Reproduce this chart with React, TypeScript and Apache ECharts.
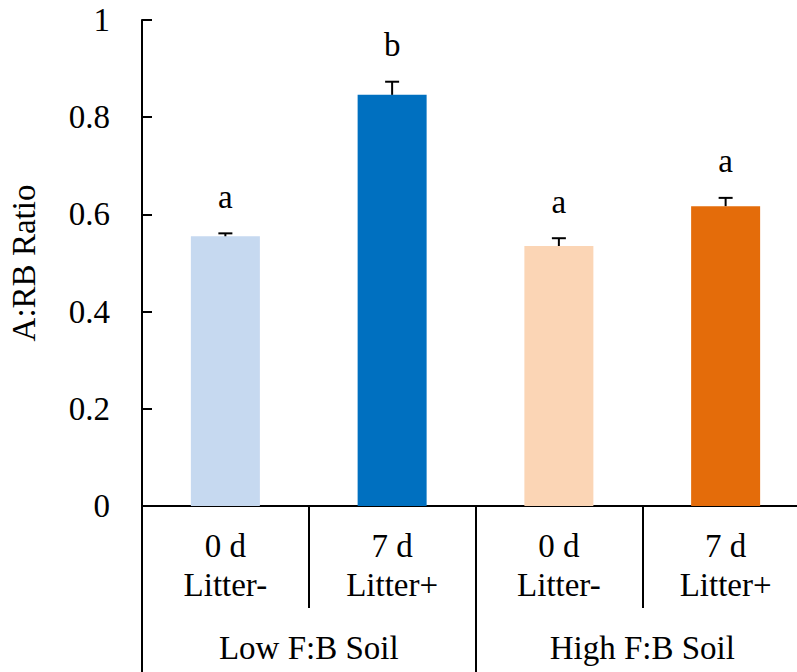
import React, { useEffect, useRef } from "react";
import * as echarts from "echarts";

// Treatment labels (two lines) and soil groups
const categories = ["0 d\nLitter-", "7 d\nLitter+", "0 d\nLitter-", "7 d\nLitter+"];
const groups = ["Low F:B Soil", "High F:B Soil"];

// Mean A:RB ratio, standard error and significance letters per treatment
const ratios = [0.555, 0.846, 0.535, 0.617];
const errors = [0.006, 0.027, 0.016, 0.017];
const letters = ["a", "b", "a", "a"];

// Y-axis ticks
const yTicks = [0, 0.2, 0.4, 0.6, 0.8, 1];

const barColors = ["#C6D9F0", "#0070C0", "#FBD5B5", "#E46C0A"];
const FONT = '"Liberation Serif", "Times New Roman", serif';
const FS = 33;

export default function App() {
  const ref = useRef<HTMLDivElement>(null);

  useEffect(() => {
    if (!ref.current) return;
    const chart = echarts.init(ref.current, null, { renderer: "svg" });

    const errData = ratios.map((v, i) => [i, v, errors[i]]);

    chart.setOption({
      animation: false,
      backgroundColor: "#ffffff",
      grid: { left: 142, top: 20, bottom: 166, width: 667, outerBoundsMode: "none", containLabel: false },
      xAxis: [
        {
          type: "category",
          data: categories,
          position: "bottom",
          axisLine: { show: true, lineStyle: { color: "#000", width: 2 } },
          axisTick: { show: true, length: 102, interval: 0, lineStyle: { color: "#000", width: 2 } },
          axisLabel: {
            interval: 0,
            margin: 20,
            color: "#000",
            fontFamily: FONT,
            fontSize: FS,
            lineHeight: 39,
          },
        },
        {
          type: "category",
          data: groups,
          position: "bottom",
          axisLine: { show: false },
          axisTick: { show: true, length: 170, interval: 0, lineStyle: { color: "#000", width: 2 } },
          axisLabel: {
            interval: 0,
            margin: 122,
            color: "#000",
            fontFamily: FONT,
            fontSize: FS,
            lineHeight: 39,
          },
        },
      ],
      yAxis: {
        type: "value",
        min: yTicks[0],
        max: yTicks[yTicks.length - 1],
        interval: 0.2,
        name: "A:RB Ratio",
        nameLocation: "middle",
        nameGap: 102,
        nameTextStyle: { color: "#000", fontFamily: FONT, fontSize: FS },
        splitLine: { show: false },
        axisLine: { show: true, lineStyle: { color: "#000", width: 2 } },
        axisTick: { show: true, inside: true, length: 10, lineStyle: { color: "#000", width: 2 } },
        axisLabel: {
          margin: 32,
          color: "#000",
          fontFamily: FONT,
          fontSize: FS,
          formatter: (v: number) => String(Number(v.toFixed(1))),
        },
      },
      series: [
        {
          type: "bar",
          xAxisIndex: 0,
          barWidth: 69,
          data: ratios.map((v, i) => ({ value: v, itemStyle: { color: barColors[i] } })),
        },
        {
          type: "custom",
          xAxisIndex: 0,
          z: 5,
          data: errData,
          renderItem: (params: any, api: any) => {
            const idx = api.value(0);
            const v = api.value(1);
            const e = api.value(2);
            const base = api.coord([idx, v]);
            const top = api.coord([idx, v + e]);
            const half = 7;
            const letter = letters[params.dataIndex];
            return {
              type: "group",
              children: [
                {
                  type: "line",
                  shape: { x1: base[0], y1: base[1], x2: top[0], y2: top[1] },
                  style: { stroke: "#000", lineWidth: 2 },
                },
                {
                  type: "line",
                  shape: { x1: top[0] - half, y1: top[1], x2: top[0] + half, y2: top[1] },
                  style: { stroke: "#000", lineWidth: 2 },
                },
                {
                  type: "text",
                  style: {
                    text: letter,
                    x: top[0],
                    y: top[1] - 20,
                    align: "center",
                    verticalAlign: "bottom",
                    fontFamily: FONT,
                    fontSize: FS,
                    fill: "#000",
                  },
                },
              ],
            };
          },
        },
      ],
    });

    return () => chart.dispose();
  }, []);

  return (
    <div
      ref={ref}
      style={{ position: "fixed", left: 0, top: 0, width: 797, height: 672, background: "#fff" }}
    />
  );
}
